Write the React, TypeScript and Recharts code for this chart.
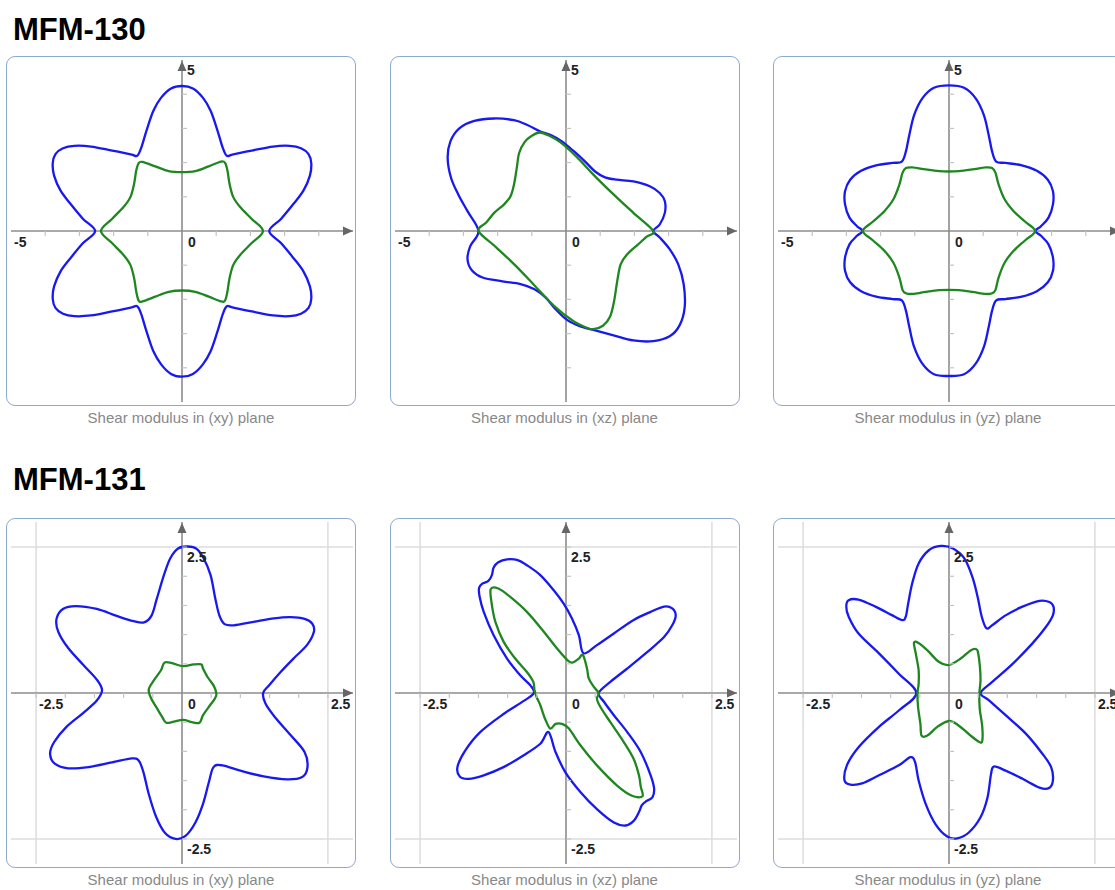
import React from 'react';
import { LineChart, Line, XAxis, YAxis, ReferenceLine, ReferenceDot } from 'recharts';

type Pt = [number, number];

// ---------- MFM-130 ----------
const xyBlue130: Pt[] = [
  [2.55, 0], [2.90, 0.36], [3.25, 0.78], [3.55, 1.18], [3.74, 1.62], [3.78, 1.98], [3.70, 2.25], [3.48, 2.42], [3.15, 2.49], [2.66, 2.47], [2.08, 2.36], [1.50, 2.24], [1.31, 2.20], [1.19, 2.44], [1.04, 2.93], [0.84, 3.51], [0.61, 3.90], [0.32, 4.17], [0, 4.24],
  [-0.32, 4.17], [-0.61, 3.90], [-0.84, 3.51], [-1.04, 2.93], [-1.19, 2.44], [-1.31, 2.20], [-1.50, 2.24], [-2.08, 2.36], [-2.66, 2.47], [-3.15, 2.49], [-3.48, 2.42], [-3.70, 2.25], [-3.78, 1.98], [-3.74, 1.62], [-3.55, 1.18], [-3.25, 0.78], [-2.90, 0.36], [-2.54, 0],
  [-2.90, -0.36], [-3.25, -0.78], [-3.55, -1.18], [-3.74, -1.62], [-3.78, -1.98], [-3.70, -2.25], [-3.48, -2.42], [-3.15, -2.49], [-2.66, -2.47], [-2.08, -2.36], [-1.50, -2.24], [-1.31, -2.20], [-1.19, -2.44], [-1.04, -2.93], [-0.84, -3.51], [-0.61, -3.90], [-0.32, -4.18], [0, -4.26],
  [0.32, -4.18], [0.61, -3.90], [0.84, -3.51], [1.04, -2.93], [1.19, -2.44], [1.31, -2.20], [1.50, -2.24], [2.08, -2.36], [2.66, -2.47], [3.15, -2.49], [3.48, -2.42], [3.70, -2.25], [3.78, -1.98], [3.74, -1.62], [3.55, -1.18], [3.25, -0.78], [2.90, -0.36],
];
const xyGreen130: Pt[] = [
  [2.37, 0], [2.03, 0.36], [1.70, 0.70], [1.50, 0.99], [1.39, 1.38], [1.33, 1.76], [1.26, 1.99], [1.14, 2.03], [0.78, 1.89], [0.39, 1.75], [0, 1.72],
  [-0.39, 1.75], [-0.78, 1.89], [-1.16, 2.02], [-1.27, 1.98], [-1.34, 1.76], [-1.40, 1.38], [-1.51, 0.99], [-1.71, 0.70], [-2.04, 0.36], [-2.37, 0],
  [-2.04, -0.36], [-1.71, -0.70], [-1.51, -0.99], [-1.40, -1.38], [-1.34, -1.76], [-1.27, -2.03], [-1.16, -2.06], [-0.78, -1.92], [-0.39, -1.78], [0, -1.74],
  [0.39, -1.78], [0.78, -1.92], [1.14, -2.06], [1.26, -2.03], [1.33, -1.76], [1.39, -1.38], [1.50, -0.99], [1.70, -0.70], [2.03, -0.36],
];
const xzBlue130: Pt[] = [
  [2.55, 0], [2.74, 0.19], [2.89, 0.53], [2.89, 0.87], [2.74, 1.11], [2.45, 1.31], [1.97, 1.45], [1.48, 1.50], [1.14, 1.57], [0.85, 1.74], [0.56, 2.03], [0.22, 2.34], [-0.12, 2.62], [-0.46, 2.81], [-0.75, 2.91], [-1.13, 3.10], [-1.52, 3.24], [-2.10, 3.29], [-2.68, 3.22], [-3.12, 3.00], [-3.38, 2.62], [-3.46, 2.13], [-3.36, 1.55], [-3.15, 1.07], [-2.88, 0.58], [-2.56, 0],
  [-2.80, -0.44], [-2.88, -0.82], [-2.76, -1.14], [-2.44, -1.36], [-1.86, -1.47], [-1.33, -1.55], [-0.92, -1.70], [-0.60, -1.94], [-0.31, -2.28], [0.03, -2.60], [0.42, -2.79], [0.80, -2.89], [1.39, -3.05], [1.97, -3.20], [2.55, -3.22], [3.03, -3.08], [3.32, -2.76], [3.47, -2.23], [3.44, -1.55], [3.28, -0.97], [3.03, -0.53], [2.74, -0.19],
];
const xzGreen130: Pt[] = [
  [2.55, 0], [1.97, 0.53], [1.39, 1.07], [0.80, 1.65], [0.32, 2.16], [-0.16, 2.59], [-0.50, 2.79], [-0.77, 2.88], [-0.99, 2.79], [-1.21, 2.60], [-1.37, 2.28], [-1.44, 1.84], [-1.52, 1.36], [-1.62, 1.02], [-1.81, 0.78], [-2.10, 0.53], [-2.34, 0.24], [-2.56, 0],
  [-2.05, -0.47], [-1.52, -0.97], [-0.94, -1.57], [-0.36, -2.18], [0.22, -2.64], [0.61, -2.83], [0.80, -2.87], [1.08, -2.77], [1.29, -2.50], [1.41, -2.03], [1.50, -1.45], [1.60, -0.97], [1.79, -0.68], [2.11, -0.39], [2.35, -0.17],
];
const yzBlue130: Pt[] = [
  [2.52, 0], [2.69, 0.14], [2.91, 0.39], [3.04, 0.78], [3.04, 1.16], [2.89, 1.50], [2.57, 1.76], [2.13, 1.92], [1.65, 1.99], [1.38, 2.03], [1.26, 2.33], [1.16, 2.81], [1.02, 3.39], [0.78, 3.88], [0.44, 4.19], [0, 4.26],
  [-0.44, 4.19], [-0.78, 3.88], [-1.02, 3.39], [-1.16, 2.81], [-1.26, 2.33], [-1.38, 2.03], [-1.65, 1.99], [-2.13, 1.92], [-2.57, 1.76], [-2.89, 1.50], [-3.04, 1.16], [-3.04, 0.78], [-2.91, 0.39], [-2.69, 0.14], [-2.52, 0],
  [-2.69, -0.14], [-2.91, -0.39], [-3.04, -0.78], [-3.04, -1.16], [-2.89, -1.50], [-2.57, -1.76], [-2.13, -1.92], [-1.65, -1.99], [-1.38, -2.03], [-1.26, -2.33], [-1.16, -2.81], [-1.02, -3.39], [-0.78, -3.88], [-0.44, -4.19], [0, -4.24],
  [0.44, -4.19], [0.78, -3.88], [1.02, -3.39], [1.16, -2.81], [1.26, -2.33], [1.38, -2.03], [1.65, -1.99], [2.13, -1.92], [2.57, -1.76], [2.89, -1.50], [3.04, -1.16], [3.04, -0.78], [2.91, -0.39], [2.69, -0.14],
];
const yzGreen130: Pt[] = [
  [2.52, 0], [2.23, 0.27], [1.89, 0.58], [1.63, 0.92], [1.45, 1.36], [1.36, 1.70], [1.26, 1.84], [1.07, 1.86], [0.68, 1.80], [0.29, 1.75], [0, 1.74],
  [-0.29, 1.75], [-0.68, 1.80], [-1.07, 1.86], [-1.26, 1.84], [-1.36, 1.70], [-1.45, 1.36], [-1.63, 0.92], [-1.89, 0.58], [-2.23, 0.27], [-2.52, 0],
  [-2.23, -0.27], [-1.89, -0.58], [-1.63, -0.92], [-1.45, -1.36], [-1.36, -1.72], [-1.26, -1.82], [-1.07, -1.84], [-0.68, -1.78], [-0.29, -1.73], [0, -1.72],
  [0.29, -1.73], [0.68, -1.78], [1.07, -1.84], [1.26, -1.82], [1.36, -1.72], [1.45, -1.36], [1.63, -0.92], [1.89, -0.58], [2.23, -0.27],
];

// ---------- MFM-131 ----------
const xyBlue131: Pt[] = [
  [1.39, 0], [1.49, 0.13], [1.69, 0.36], [1.92, 0.60], [2.14, 0.82], [2.26, 1.05], [2.23, 1.19], [2.10, 1.27], [1.86, 1.30], [1.58, 1.28], [1.23, 1.22], [0.89, 1.16], [0.73, 1.18], [0.64, 1.33], [0.57, 1.62], [0.49, 2.02], [0.37, 2.31], [0.25, 2.47], [0.10, 2.51], [-0.06, 2.48], [-0.20, 2.31], [-0.31, 2.02], [-0.43, 1.62], [-0.52, 1.33], [-0.65, 1.21], [-0.83, 1.23], [-1.12, 1.32], [-1.46, 1.44], [-1.82, 1.49], [-2.04, 1.44], [-2.15, 1.27], [-2.12, 1.05], [-1.95, 0.77], [-1.69, 0.48], [-1.46, 0.23], [-1.37, 0.05],
  [-1.46, -0.13], [-1.69, -0.34], [-1.98, -0.58], [-2.19, -0.84], [-2.26, -1.04], [-2.18, -1.21], [-1.95, -1.29], [-1.60, -1.27], [-1.20, -1.19], [-0.86, -1.12], [-0.74, -1.16], [-0.66, -1.36], [-0.57, -1.73], [-0.44, -2.13], [-0.29, -2.40], [-0.11, -2.50], [0.06, -2.45], [0.23, -2.22], [0.36, -1.90], [0.46, -1.53], [0.54, -1.27], [0.69, -1.24], [1.00, -1.33], [1.40, -1.43], [1.80, -1.48], [2.06, -1.44], [2.15, -1.27], [2.10, -1.01], [1.86, -0.72], [1.59, -0.41], [1.43, -0.18],
];
const xyGreen131: Pt[] = [
  [0.59, -0.01], [0.54, 0.13], [0.44, 0.27], [0.36, 0.42], [0.33, 0.49], [0.20, 0.49], [0.02, 0.46], [-0.17, 0.51], [-0.30, 0.52], [-0.36, 0.39], [-0.48, 0.22], [-0.57, 0.06],
  [-0.53, -0.09], [-0.43, -0.26], [-0.34, -0.41], [-0.27, -0.51], [-0.14, -0.49], [0.02, -0.46], [0.17, -0.50], [0.30, -0.51], [0.36, -0.38], [0.48, -0.21], [0.56, -0.10],
];
const xzBlue131: Pt[] = [
  [0.56, 0], [0.76, 0.19], [1.05, 0.42], [1.39, 0.70], [1.68, 0.96], [1.82, 1.16], [1.88, 1.33], [1.82, 1.45], [1.68, 1.48], [1.45, 1.39], [1.16, 1.25], [0.82, 1.02], [0.53, 0.82], [0.30, 0.68],
  [0.22, 0.99], [0.10, 1.28], [-0.04, 1.53], [-0.21, 1.76], [-0.44, 2.02], [-0.67, 2.19], [-0.84, 2.28], [-1.01, 2.29], [-1.16, 2.24], [-1.24, 2.15], [-1.27, 2.02], [-1.33, 1.92], [-1.44, 1.87], [-1.49, 1.80], [-1.48, 1.65], [-1.41, 1.39], [-1.24, 0.99], [-1.01, 0.59], [-0.78, 0.30], [-0.61, 0.13], [-0.55, 0],
  [-0.73, -0.14], [-1.07, -0.36], [-1.47, -0.67], [-1.73, -0.99], [-1.86, -1.27], [-1.82, -1.43], [-1.67, -1.47], [-1.41, -1.41], [-1.07, -1.27], [-0.73, -1.07], [-0.44, -0.87], [-0.30, -0.67],
  [-0.18, -1.01], [-0.01, -1.36], [0.25, -1.70], [0.53, -1.99], [0.82, -2.22], [1.02, -2.27], [1.16, -2.19], [1.25, -2.04], [1.30, -1.92], [1.38, -1.85], [1.48, -1.79], [1.51, -1.64], [1.45, -1.41], [1.28, -1.01], [1.05, -0.67], [0.82, -0.38], [0.65, -0.15],
];
const xzGreen131: Pt[] = [
  [0.56, 0], [0.48, 0.10], [0.39, 0.25], [0.36, 0.42], [0.29, 0.65], [0.22, 0.59], [0.13, 0.53], [0.05, 0.54], [-0.15, 0.76], [-0.38, 1.05], [-0.67, 1.39], [-0.96, 1.65], [-1.16, 1.79], [-1.29, 1.78],
  [-1.27, 1.51], [-1.21, 1.22], [-1.07, 0.88], [-0.87, 0.59], [-0.67, 0.36], [-0.56, 0.19], [-0.54, 0.05], [-0.50, -0.08], [-0.44, -0.21], [-0.36, -0.44], [-0.27, -0.61],
  [-0.18, -0.53], [-0.07, -0.53], [0.05, -0.61], [0.25, -0.90], [0.53, -1.24], [0.88, -1.59], [1.13, -1.76], [1.31, -1.77],
  [1.28, -1.60], [1.25, -1.41], [1.16, -1.13], [0.99, -0.84], [0.76, -0.50], [0.59, -0.24], [0.53, -0.10],
];
const yzBlue131: Pt[] = [
  [0.54, 0], [0.74, 0.19], [1.09, 0.50], [1.43, 0.85], [1.66, 1.13], [1.78, 1.33], [1.79, 1.48], [1.72, 1.56], [1.55, 1.58], [1.26, 1.48], [0.97, 1.33], [0.74, 1.16], [0.64, 1.11],
  [0.56, 1.31], [0.49, 1.65], [0.40, 1.99], [0.26, 2.31], [0.06, 2.48], [-0.14, 2.52], [-0.34, 2.45], [-0.52, 2.22], [-0.63, 1.88], [-0.70, 1.53], [-0.74, 1.31], [-0.80, 1.25],
  [-0.97, 1.33], [-1.26, 1.48], [-1.55, 1.60], [-1.72, 1.59], [-1.76, 1.48], [-1.72, 1.31], [-1.55, 1.02], [-1.20, 0.68], [-0.86, 0.33], [-0.56, 0],
  [-0.86, -0.30], [-1.20, -0.58], [-1.55, -0.93], [-1.75, -1.24], [-1.79, -1.50], [-1.69, -1.57], [-1.49, -1.55], [-1.20, -1.41], [-0.86, -1.24], [-0.66, -1.10],
  [-0.58, -1.19], [-0.52, -1.50], [-0.40, -1.90], [-0.23, -2.25], [-0.03, -2.46], [0.14, -2.49], [0.34, -2.39], [0.54, -2.13], [0.66, -1.79], [0.72, -1.39], [0.77, -1.26],
  [0.97, -1.33], [1.26, -1.47], [1.55, -1.62], [1.71, -1.63], [1.78, -1.50], [1.75, -1.27], [1.60, -1.04], [1.32, -0.70], [0.97, -0.38], [0.69, -0.13],
];
const yzGreen131: Pt[] = [
  [0.52, 0], [0.54, 0.22], [0.53, 0.45], [0.50, 0.68], [0.47, 0.75], [0.37, 0.73], [0.20, 0.59], [0, 0.48], [-0.17, 0.53], [-0.37, 0.73], [-0.53, 0.86], [-0.60, 0.86],
  [-0.57, 0.68], [-0.52, 0.39], [-0.52, 0.16], [-0.54, -0.01], [-0.53, -0.24], [-0.49, -0.53], [-0.47, -0.73],
  [-0.37, -0.73], [-0.20, -0.58], [0, -0.48], [0.17, -0.56], [0.37, -0.73], [0.52, -0.84], [0.57, -0.82],
  [0.57, -0.58], [0.53, -0.30], [0.52, -0.13],
];

// ---------- axes ----------
const ticks130 = [-4, -3, -2, -1, 1, 2, 3, 4];
const ticks131 = [-2.5, -2, -1.5, -1, -0.5, 0.5, 1, 1.5, 2, 2.5];
const grid131 = [-2.5, 2.5];
const xLabels130 = [{ v: -5, t: '-5' }];
const yLabels130 = [{ v: 5, t: '5' }];
const xLabels131 = [{ v: -2.5, t: '-2.5' }, { v: 2.5, t: '2.5' }];
const yLabels131 = [{ v: 2.5, t: '2.5' }, { v: -2.5, t: '-2.5' }];
const captions = ['Shear modulus in (xy) plane', 'Shear modulus in (xz) plane', 'Shear modulus in (yz) plane'];
const titles = ['MFM-130', 'MFM-131'];

const BLUE = '#1818f2';
const GREEN = '#1f871f';
const FONT = '"Liberation Sans", Arial, Helvetica, sans-serif';

// closed Catmull-Rom curve
const closedSmooth: any = (context: any) => {
  let pts: number[][] = [];
  return {
    areaStart() {},
    areaEnd() {},
    lineStart() { pts = []; },
    point(x: number, y: number) { pts.push([+x, +y]); },
    lineEnd() {
      const n = pts.length;
      if (!n) return;
      const k = 1 / 6;
      context.moveTo(pts[0][0], pts[0][1]);
      for (let i = 0; i < n; i++) {
        const p0 = pts[(i - 1 + n) % n];
        const p1 = pts[i];
        const p2 = pts[(i + 1) % n];
        const p3 = pts[(i + 2) % n];
        context.bezierCurveTo(
          p1[0] + (p2[0] - p0[0]) * k, p1[1] + (p2[1] - p0[1]) * k,
          p2[0] - (p3[0] - p1[0]) * k, p2[1] - (p3[1] - p1[1]) * k,
          p2[0], p2[1]
        );
      }
      context.closePath();
    },
  };
};

const toRows = (pts: Pt[]) => pts.map(([x, y]) => ({ x, y }));

interface PanelProps {
  left: number;
  top: number;
  D: number;
  ticks: number[];
  grid: number[];
  xLabels: { v: number; t: string }[];
  yLabels: { v: number; t: string }[];
  blue: Pt[];
  green: Pt[];
  caption: string;
}

const SIZE = 350;

function Panel({ left, top, D, ticks, grid, xLabels, yLabels, blue, green, caption }: PanelProps) {
  const labelStyle = { fontFamily: FONT, fontSize: 14, fontWeight: 'bold', fill: '#222' } as const;
  return (
    <>
      <div style={{ position: 'absolute', left, top, width: SIZE, height: SIZE }}>
        <LineChart width={SIZE} height={SIZE} margin={{ top: 4, right: 3, bottom: 4, left: 5 }}>
          <XAxis type="number" dataKey="x" domain={[-D, D]} hide allowDataOverflow />
          <YAxis type="number" dataKey="y" domain={[-D, D]} hide allowDataOverflow />
          {grid.map((g) => (
            <ReferenceLine key={'gx' + g} x={g} stroke="#dcdcdc" strokeWidth={1.5} />
          ))}
          {grid.map((g) => (
            <ReferenceLine key={'gy' + g} y={g} stroke="#dcdcdc" strokeWidth={1.5} />
          ))}
          <ReferenceLine x={0} stroke="#8c8c8c" strokeWidth={1.6} />
          <ReferenceLine y={0} stroke="#8c8c8c" strokeWidth={1.6} />
          {ticks.map((t) => (
            <ReferenceDot key={'tx' + t} x={t} y={0} ifOverflow="visible"
              shape={(p: any) => <line x1={p.cx} y1={p.cy} x2={p.cx} y2={p.cy + 5} stroke="#c4c4c4" strokeWidth={1.2} />} />
          ))}
          {ticks.map((t) => (
            <ReferenceDot key={'ty' + t} x={0} y={t} ifOverflow="visible"
              shape={(p: any) => <line x1={p.cx} y1={p.cy} x2={p.cx + 5} y2={p.cy} stroke="#c4c4c4" strokeWidth={1.2} />} />
          ))}
          <Line data={toRows(blue)} dataKey="y" type={closedSmooth} stroke={BLUE} strokeWidth={2.3} dot={false} activeDot={false} isAnimationActive={false} legendType="none" />
          <Line data={toRows(green)} dataKey="y" type={closedSmooth} stroke={GREEN} strokeWidth={2.3} dot={false} activeDot={false} isAnimationActive={false} legendType="none" />
          <ReferenceDot x={D} y={0} ifOverflow="visible"
            shape={(p: any) => <path d={`M${p.cx},${p.cy} L${p.cx - 10},${p.cy - 4.5} L${p.cx - 10},${p.cy + 4.5} Z`} fill="#666" />} />
          <ReferenceDot x={0} y={D} ifOverflow="visible"
            shape={(p: any) => <path d={`M${p.cx},${p.cy + 1} L${p.cx - 4.5},${p.cy + 11} L${p.cx + 4.5},${p.cy + 11} Z`} fill="#666" />} />
          {xLabels.map((l) => (
            <ReferenceDot key={'lx' + l.v} x={l.v} y={0} ifOverflow="visible"
              shape={(p: any) => <text x={p.cx + 3} y={p.cy + 16} style={labelStyle}>{l.t}</text>} />
          ))}
          {yLabels.map((l) => (
            <ReferenceDot key={'ly' + l.v} x={0} y={l.v} ifOverflow="visible"
              shape={(p: any) => <text x={p.cx + 5} y={p.cy + 15} style={labelStyle}>{l.t}</text>} />
          ))}
          <ReferenceDot x={0} y={0} ifOverflow="visible"
            shape={(p: any) => <text x={p.cx + 6} y={p.cy + 16} style={labelStyle}>0</text>} />
        </LineChart>
      </div>
      <div style={{ position: 'absolute', left, top, width: SIZE, height: SIZE, boxSizing: 'border-box', border: '1.5px solid #8ea9d0', borderRadius: 9, pointerEvents: 'none' }} />
      <div style={{ position: 'absolute', left, top: top + SIZE + 3, width: SIZE, textAlign: 'center', fontFamily: FONT, fontSize: 15, lineHeight: '17px', color: '#888' }}>
        {caption}
      </div>
    </>
  );
}

const COLS = [6, 389.5, 773];
const ROWS = [56, 518];

export default function App() {
  const row130 = [
    { blue: xyBlue130, green: xyGreen130 },
    { blue: xzBlue130, green: xzGreen130 },
    { blue: yzBlue130, green: yzGreen130 },
  ];
  const row131 = [
    { blue: xyBlue131, green: xyGreen131 },
    { blue: xzBlue131, green: xzGreen131 },
    { blue: yzBlue131, green: yzGreen131 },
  ];
  return (
    <div style={{ position: 'absolute', left: 0, top: 0, width: 1115, height: 890, overflow: 'hidden', background: '#fff' }}>
      <div style={{ position: 'absolute', left: 13, top: 14, fontFamily: FONT, fontWeight: 'bold', fontSize: 31, lineHeight: '31px', color: '#000' }}>{titles[0]}</div>
      <div style={{ position: 'absolute', left: 13, top: 464, fontFamily: FONT, fontWeight: 'bold', fontSize: 31, lineHeight: '31px', color: '#000' }}>{titles[1]}</div>
      {row130.map((c, i) => (
        <Panel key={'a' + i} left={COLS[i]} top={ROWS[0]} D={5} ticks={ticks130} grid={[]} xLabels={xLabels130} yLabels={yLabels130} blue={c.blue} green={c.green} caption={captions[i]} />
      ))}
      {row131.map((c, i) => (
        <Panel key={'b' + i} left={COLS[i]} top={ROWS[1]} D={2.93} ticks={ticks131} grid={grid131} xLabels={xLabels131} yLabels={yLabels131} blue={c.blue} green={c.green} caption={captions[i]} />
      ))}
    </div>
  );
}
